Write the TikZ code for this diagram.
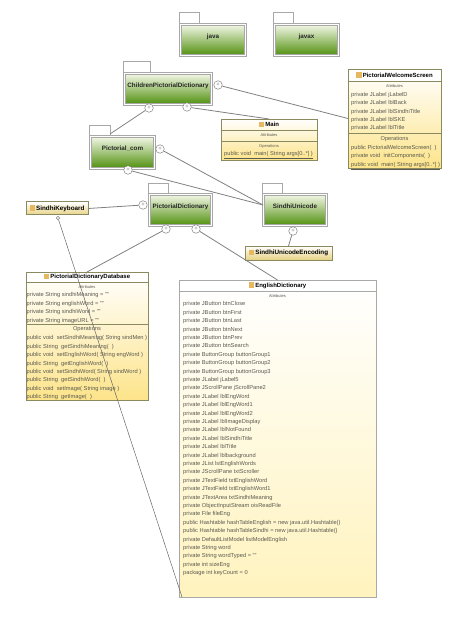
\documentclass[tikz,border=0pt]{standalone}
\usepackage{fontspec}
\setmainfont{Liberation Sans}
\usepackage{xcolor}
\usetikzlibrary{positioning}
\definecolor{frameGrey}{HTML}{A8A8A8}
\definecolor{lineGrey}{HTML}{808080}
\definecolor{rowGrey}{HTML}{5A5A50}
\definecolor{pkgTop}{HTML}{F4F8E8}
\definecolor{pkgMid}{HTML}{B4D47E}
\definecolor{pkgBottom}{HTML}{4F8F0C}
\definecolor{classBottom}{HTML}{FDE48A}
\definecolor{classPale}{HTML}{FFF3BE}
\definecolor{classLine}{HTML}{8A8A60}
\definecolor{iconOrange}{HTML}{E8B860}
\newcommand{\classicon}{\textcolor{iconOrange}{\rule[-0.6pt]{5.5pt}{5.5pt}}\,}
\newcommand{\rowfont}{\fontsize{5.7}{8.4}\selectfont}
\begin{document}
\begin{tikzpicture}[
  x=1pt, y=-1pt,
  pkgtab/.style={draw=frameGrey, line width=0.6pt, fill=white, anchor=south west, inner sep=0pt, outer sep=0pt},
  pkgbody/.style={draw=frameGrey, line width=0.5pt, double=white, double distance=1.2pt, top color=pkgTop, middle color=pkgMid,
                  bottom color=pkgBottom, anchor=north west, inner sep=0pt, outer sep=0pt, text depth=8pt, font=\fontsize{6.3}{7}\selectfont\bfseries, text=black!85},
  classbox/.style={draw=classLine, line width=0.6pt, top color=white, anchor=north west, inner sep=0pt, outer sep=0pt},
  classhead/.style={draw=classLine, line width=0.5pt, fill=white, inner sep=0pt, outer sep=0pt, minimum height=11pt, font=\fontsize{6}{7}\selectfont\bfseries},
  compart/.style={draw=classLine, line width=0.5pt, inner sep=0pt, outer sep=0pt},
  smallclass/.style={draw=classLine, line width=1pt, top color=white, bottom color=classBottom!80!classLine, anchor=north west, inner sep=0pt, outer sep=0pt,
                     font=\fontsize{6.3}{7}\selectfont\bfseries},
  comptitle/.style={inner sep=0pt, font=\fontsize{4}{5}\selectfont, text=rowGrey},
  rows/.style={inner sep=0pt, align=left, font=\rowfont, text=rowGrey},
  plusmark/.style={draw=lineGrey, circle, fill=white, line width=0.5pt, inner sep=0pt, minimum size=8.5pt, font=\fontsize{6}{6}\selectfont, text=lineGrey},
  dotmark/.style={draw=lineGrey, circle, fill=white, line width=0.5pt, inner sep=0pt, minimum size=3.5pt},
  link/.style={draw=lineGrey, line width=0.8pt},
  thinlink/.style={draw=black!60, line width=0.5pt}
]
\useasboundingbox (0,0) rectangle (468,617);

\node[pkgbody, minimum width=65pt, minimum height=31pt, at={(180.5,24.5)}] (java) {java};
\node[pkgtab, minimum width=20pt, minimum height=11pt, at={(179,23)}] (javaTab) {};
\node[pkgbody, minimum width=64pt, minimum height=31pt, at={(274.5,24.5)}] (javax) {javax};
\node[pkgtab, minimum width=20pt, minimum height=11pt, at={(273,23)}] (javaxTab) {};
\node[pkgbody, minimum width=87pt, minimum height=31pt, at={(124.5,73.5)}] (children) {ChildrenPictorialDictionary};
\node[pkgtab, minimum width=27pt, minimum height=11pt, at={(123,72)}] (childrenTab) {};
\node[pkgbody, minimum width=64pt, minimum height=32pt, at={(90.5,136.5)}] (pictorialCom) {Pictorial\_com};
\node[pkgtab, minimum width=21pt, minimum height=10pt, at={(89,135)}] (pictorialComTab) {};
\node[pkgbody, minimum width=62pt, minimum height=31pt, at={(149.5,194.5)}] (pictorialDict) {PictorialDictionary};
\node[pkgtab, minimum width=20pt, minimum height=10pt, at={(148,193)}] (pictorialDictTab) {};
\node[pkgbody, minimum width=63pt, minimum height=31pt, at={(263.5,194.5)}] (unicode) {SindhiUnicode};
\node[pkgtab, minimum width=20pt, minimum height=10pt, at={(262,193)}] (unicodeTab) {};

\node[smallclass, minimum width=62pt, minimum height=13pt, at={(26,202)}] (keyboard) {\classicon SindhiKeyboard};
\node[smallclass, minimum width=87pt, minimum height=14pt, at={(245,246)}] (encoding) {\classicon SindhiUnicodeEncoding};

\node[classbox, bottom color=classBottom, minimum width=96pt, minimum height=41pt, at={(221,119)}] (main) {};
\node[classhead, fill=none, minimum width=96pt, below=0pt of main.north] (mainHead) {\classicon Main};
\node[compart, minimum width=96pt, minimum height=11pt, below=0pt of mainHead] (mainAttr) {};
\node[comptitle, below=3.5pt of mainAttr.north] (mainAttrTitle) {Attributes};
\node[comptitle, below=3.5pt of mainAttr.south] (mainOpsTitle) {Operations};
\node[rows, below right=10pt and 3pt of mainAttr.south west] (mainOps) {\underline{public void\ \ main( String args[0..*] )}};

\node[classbox, bottom color=classBottom, minimum width=93pt, minimum height=99pt, at={(348,69)}] (welcome) {};
\node[classhead, minimum width=93pt, minimum height=12pt, below=0pt of welcome.north] (welcomeHead) {\classicon PictorialWelcomeScreen};
\node[compart, minimum width=93pt, minimum height=52pt, below=0pt of welcomeHead] (welcomeAttr) {};
\node[comptitle, below=3pt of welcomeAttr.north] (welcomeAttrTitle) {Attributes};
\node[rows, below right=11pt and 3pt of welcomeAttr.north west] (welcomeAttrRows) {private JLabel jLabelD\\private JLabel lblBack\\private JLabel lblSindhiTitle\\private JLabel lblSKE\\private JLabel lblTitle};
\node[comptitle, font=\rowfont, below=3pt of welcomeAttr.south] (welcomeOpsTitle) {Operations};
\node[rows, below right=12pt and 3pt of welcomeAttr.south west] (welcomeOps) {public PictorialWelcomeScreen(\ \ )\\private void\ \ initComponents(\ \ )\\\underline{public void\ \ main( String args[0..*] )}};

\node[classbox, bottom color=classBottom, minimum width=122pt, minimum height=128pt, at={(26,272)}] (database) {};
\node[classhead, minimum width=122pt, minimum height=10pt, below=0pt of database.north] (databaseHead) {\classicon PictorialDictionaryDatabase};
\node[compart, minimum width=122pt, minimum height=42pt, below=0pt of databaseHead] (databaseAttr) {};
\node[comptitle, below=3pt of databaseAttr.north] (databaseAttrTitle) {Attributes};
\node[rows, below right=10.5pt and 0.5pt of databaseAttr.north west] (databaseAttrRows) {private String sindhiMeaning = ""\\private String englishWord = ""\\private String sindhiWord = ""\\private String imageURL = ""};
\node[comptitle, font=\rowfont, below=2pt of databaseAttr.south] (databaseOpsTitle) {Operations};
\node[rows, below right=11.5pt and 0.5pt of databaseAttr.south west] (databaseOps) {public void\ \ setSindhiMeaning( String sindMen )\\public String\ \ getSindhiMeaning(\ \ )\\public void\ \ setEnglishWord( String engWord )\\public String\ \ getEnglishWord(\ \ )\\public void\ \ setSindhiWord( String sindWord )\\public String\ \ getSindhiWord(\ \ )\\public void\ \ setImage( String image )\\public String\ \ getImage(\ \ )};

\node[classbox, draw=frameGrey, bottom color=classPale, minimum width=197pt, minimum height=317pt, at={(179,280)}] (english) {};
\node[classhead, draw=frameGrey, minimum width=197pt, below=0pt of english.north] (englishHead) {\classicon EnglishDictionary};
\node[comptitle, below=3pt of englishHead.south] (englishAttrTitle) {Attributes};
\node[rows, below right=10.5pt and 4pt of englishHead.south west] (englishRows) {private JButton btnClose\\private JButton btnFirst\\private JButton btnLast\\private JButton btnNext\\private JButton btnPrev\\private JButton btnSearch\\private ButtonGroup buttonGroup1\\private ButtonGroup buttonGroup2\\private ButtonGroup buttonGroup3\\private JLabel jLabel5\\private JScrollPane jScrollPane2\\private JLabel lblEngWord\\private JLabel lblEngWord1\\private JLabel lblEngWord2\\private JLabel lblImageDisplay\\private JLabel lblNotFound\\private JLabel lblSindhiTitle\\private JLabel lblTitle\\private JLabel lblbackground\\private JList lstEnglishWords\\private JScrollPane txtScroller\\private JTextField txtEnglishWord\\private JTextField txtEnglishWord1\\private JTextArea txtSindhiMeaning\\private ObjectInputStream oisReadFile\\private File fileEng\\public Hashtable hashTableEnglish = new java.util.Hashtable()\\public Hashtable hashTableSindhi = new java.util.Hashtable()\\private DefaultListModel listModelEnglish\\private String word\\private String wordTyped = ""\\private int sizeEng\\package int keyCount = 0};

\node[plusmark] (childrenEast) at (218,85) {+};
\node[plusmark] (childrenSouthA) at (149,108) {+};
\node[plusmark] (childrenSouthB) at (187,107) {+};
\node[plusmark] (pictorialComEast) at (160,149) {+};
\node[plusmark] (pictorialComSouth) at (128,170) {+};
\node[plusmark] (dictWest) at (143,205) {+};
\node[plusmark] (dictSouthA) at (166,229) {+};
\node[plusmark] (dictSouthB) at (196,229) {+};
\node[plusmark] (unicodeSouth) at (293,231) {+};
\node[dotmark] (keyboardSouth) at (58,218) {};

\coordinate (pictorialComIn) at (110,134);
\coordinate (unicodeIn) at (263,205);
\coordinate (englishIn) at (182,597);

\draw[link] (childrenEast) -- (welcome.west);
\draw[link] (childrenSouthB) -- (main.north);
\draw[link] (childrenSouthA) -- (pictorialComIn);
\draw[link] (pictorialComEast) -- (unicodeIn);
\draw[link] (pictorialComSouth) -- (unicodeIn);
\draw[link] (dictWest) -- (keyboard.east);
\draw[link] (dictSouthA) -- (database.north);
\draw[link] (dictSouthB) -- (english.north);
\draw[link] (unicodeSouth) -- (encoding.north);
\draw[thinlink] (keyboardSouth) -- (englishIn);
\end{tikzpicture}
\end{document}
